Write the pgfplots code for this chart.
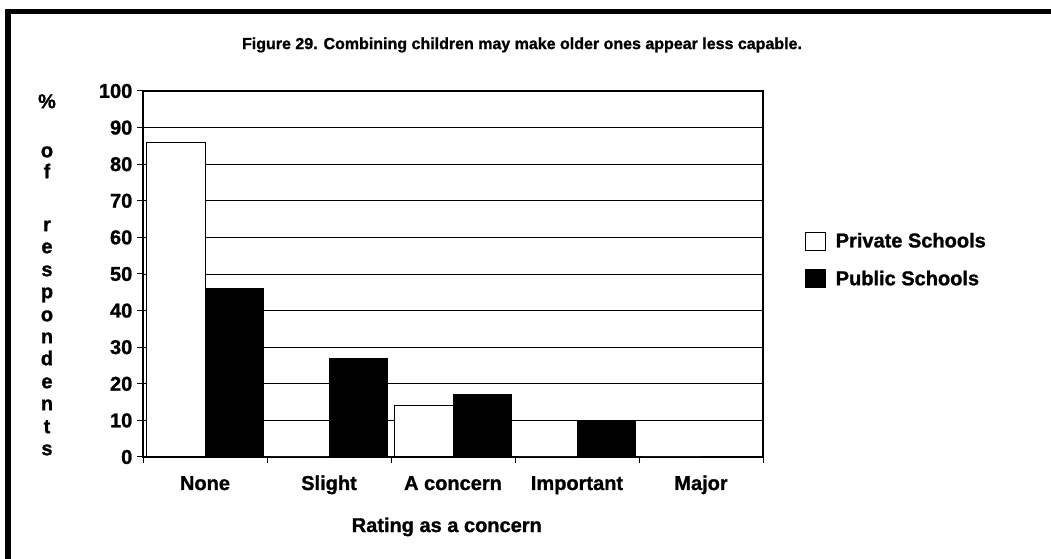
\documentclass[border=0pt]{standalone}
\usepackage{fontspec}
\setmainfont{Liberation Sans}[BoldFeatures={FakeBold=1.2}]
\usepackage{pgfplots}
\pgfplotsset{compat=1.18}
\newcommand\lbl{\fontsize{15}{18}\selectfont\bfseries}
\begin{document}
\begin{tikzpicture}
\path[use as bounding box] (0,0) rectangle (788.25pt,419.25pt);
\draw[line width=4pt] (6pt,0) -- (6pt,412pt);
\draw[line width=3.75pt] (4pt,410.25pt) -- (788.25pt,410.25pt);
\node[font=\fontsize{12}{14}\selectfont\bfseries] at (391.5pt,385.5pt) {Figure 29. Combining children may make older ones appear less capable.};
\foreach \c/\y in {{\%}/342,o/305.25,f/289.5,r/249.75,e/233.25,s/216,p/199.5,o/182.25,n/165.75,d/149.25,e/132,n/115.5,t/98.25,s/81.75}
  \node[anchor=base,font=\lbl,inner sep=0pt] at (35.25pt,{\y pt-3.9pt}) {\c};
\begin{axis}[
  at={(107.25pt,76.5pt)}, anchor=south west,
  width=465pt, height=274.5pt, scale only axis,
  ymin=0, ymax=100, ytick={0,10,...,100},
  xmin=-0.5, xmax=4.5,
  xtick={-0.5,0.5,1.5,2.5,3.5,4.5},
  x tick label as interval,
  xticklabels={None,Slight,A concern,Important,Major},
  ymajorgrids, major grid style={black,line width=0.6pt},
  ybar=0pt, bar width=0.47,
  axis line style={line width=0.9pt},
  tick style={black,line width=0.75pt},
  major tick length=4.5pt, tick align=outside,
  xtick pos=bottom, ytick pos=left,
  tick label style={font=\lbl},
  /pgf/number format/assume math mode=true,
  xticklabel style={anchor=base,yshift=-20.25pt},
  xlabel={Rating as a concern},
  xlabel style={font=\lbl, at={(axis description cs:0.49,-0.191)}, anchor=center},
  every axis plot/.append style={draw=black,line width=0.75pt},
  legend image code/.code={\draw[#1] (0pt,-6.75pt) rectangle (15pt,6.75pt);},
  legend style={at={(axis description cs:1.068,0.538)}, anchor=west, draw=none, fill=none,
    font=\lbl, row sep=12pt, inner sep=0pt,
    /tikz/every odd column/.append style={column sep=5pt}},
  legend cell align=left,
]
\addplot[fill=white] coordinates {(0,86) (1,0) (2,14) (3,0) (4,0)};
\addplot[fill=black] coordinates {(0,46) (1,27) (2,17) (3,10) (4,0)};
\legend{Private Schools, Public Schools}
\end{axis}
\end{tikzpicture}
\end{document}
